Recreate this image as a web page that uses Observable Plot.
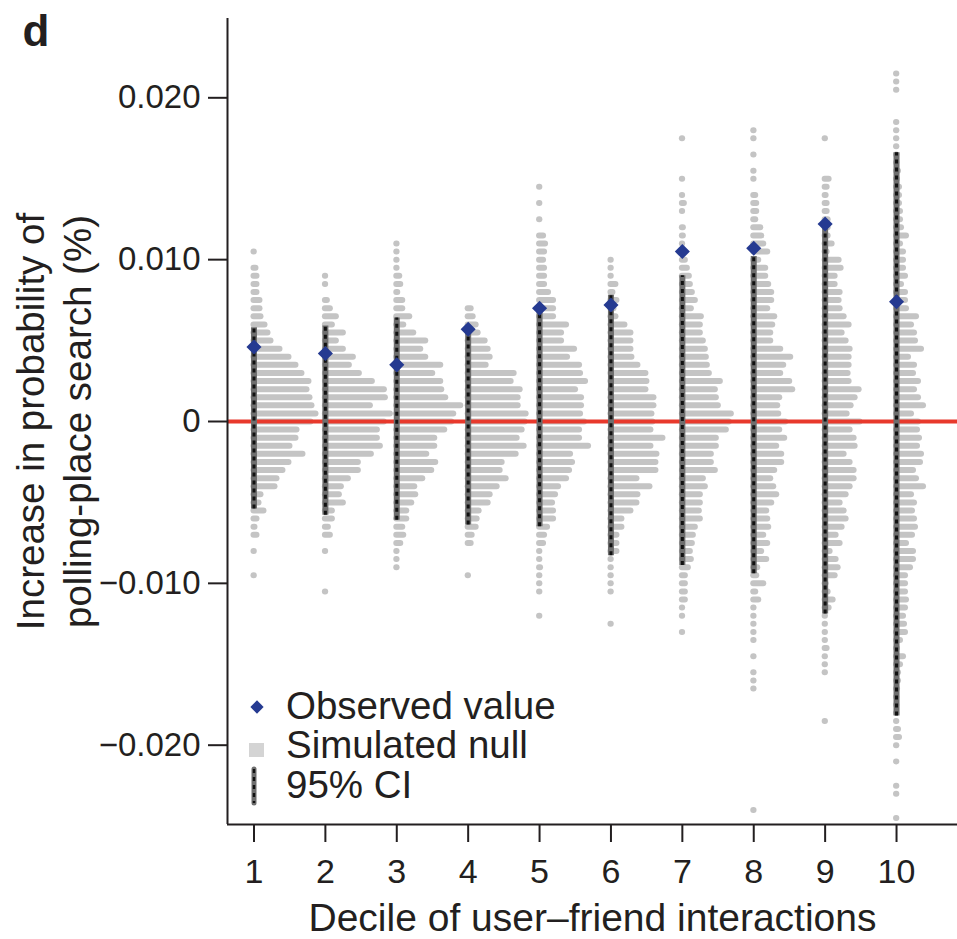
<!DOCTYPE html>
<html>
<head>
<meta charset="utf-8">
<script src="https://cdn.jsdelivr.net/npm/d3@7"></script>
<script src="https://cdn.jsdelivr.net/npm/@observablehq/plot@0.6"></script>
<style>
  html, body { margin: 0; padding: 0; background: #fff; }
  #chart { width: 957px; height: 939px; }
</style>
</head>
<body>
<div id="chart"></div>
<script>
// ---------------- data ----------------
const deciles = [1, 2, 3, 4, 5, 6, 7, 8, 9, 10];
const binWidth = 0.0005;                 // histogram bin width (in %)
// index of the highest bin (in bin widths above zero) for each decile
const topBin = [21, 18, 22, 14, 29, 20, 35, 36, 35, 43];
// simulated-null histogram frequencies, from the top bin downward
const null1 = [3,0,5,6,6,6,9,9,10,14,17,20,29,38,45,51,58,56,59,61,65,60,46,45,39,52,38,32,26,24,10,8,13,6,4,6,0,3,0,0,3];
const null2 = [3,3,0,5,8,14,10,21,14,21,31,27,37,50,62,63,48,68,62,55,55,58,49,36,36,26,19,17,21,10,10,6,8,0,3,0,0,0,0,3];
const null3 = [3,3,3,3,6,7,4,9,9,16,10,20,32,27,32,47,39,47,48,52,67,60,58,51,41,41,33,42,38,29,21,22,18,13,13,9,10,7,3,3,3];
const null4 = [6,8,11,13,20,23,25,21,49,46,55,53,53,61,60,57,52,59,51,37,35,41,32,25,23,14,12,11,7,6,0,0,0,3];
const null5 = [3,0,3,0,3,0,7,9,8,7,8,8,8,12,17,17,17,30,25,25,38,31,43,44,49,39,45,45,44,48,43,43,52,34,36,33,30,22,19,16,17,17,11,8,7,3,3,4,3,3,3,0,0,3];
const null6 = [3,3,3,8,5,9,6,8,17,23,23,23,24,30,38,39,38,46,46,44,45,43,55,43,49,48,48,29,42,30,29,23,14,14,9,9,9,3,3,3,3,3,0,0,0,3];
const null7 = [3,0,0,0,0,3,0,3,5,3,0,4,4,3,6,6,8,10,11,13,16,12,22,21,21,24,26,27,28,30,41,36,37,39,52,50,47,37,37,32,32,36,24,26,21,21,20,21,16,14,13,11,12,9,6,6,6,6,3,3,0,3];
const null8 = [3,3,0,3,0,3,3,0,5,6,6,5,10,11,13,17,8,15,15,18,21,21,17,24,22,20,20,30,40,33,30,39,42,29,27,28,35,29,34,26,31,31,24,20,23,26,21,16,17,18,13,17,11,16,7,6,13,5,8,3,3,3,3,3,0,3,0,3,3,3,0,0,0,0,0,0,0,0,0,0,0,0,0,0,3];
const null9 = [3,0,0,0,0,7,5,4,5,5,6,6,6,10,5,17,19,13,13,18,17,18,22,27,20,24,28,27,27,26,27,37,33,29,25,38,28,32,33,22,28,32,32,28,24,18,22,24,20,14,18,8,14,16,13,4,6,11,7,3,3,3,3,5,3,3,3,0,0,0,0,0,3];
const null10 = [3,3,3,0,0,0,3,3,3,3,3,3,5,4,6,6,6,7,7,8,13,7,10,10,10,12,8,12,12,13,23,18,21,22,28,15,21,20,25,21,25,30,18,25,24,26,24,28,27,20,23,30,18,21,19,21,22,19,13,20,20,17,12,12,12,13,12,10,11,12,7,4,10,7,5,5,4,3,3,3,3,5,6,3,0,3,0,0,3,3,0,0,3];
const nullFreqs = [null1, null2, null3, null4, null5, null6, null7, null8, null9, null10];
// observed values and 95% CI of the null
const observed = [0.0046, 0.0042, 0.0035, 0.0057, 0.0070, 0.0072, 0.0105, 0.0107, 0.0122, 0.0074];
const ciHigh = [0.0058, 0.0059, 0.0064, 0.0057, 0.0070, 0.0078, 0.0090, 0.0102, 0.0122, 0.0166];
const ciLow  = [-0.0054, -0.0058, -0.0061, -0.0064, -0.0065, -0.0083, -0.0089, -0.0094, -0.0119, -0.0182];
// axis ticks and text
const yTicks = [-0.02, -0.01, 0, 0.01, 0.02];
const yTickLabels = ["\u22120.020", "\u22120.010", "0", "0.010", "0.020"];
const xTitle = "Decile of user\u2013friend interactions";
const yTitle = "Increase in probability of\npolling-place search (%)";
const panelLabel = "d";
const legendLabels = ["Observed value", "Simulated null", "95% CI"];

// ---------------- build tables ----------------
const bars = [];
deciles.forEach((d, k) => {
  nullFreqs[k].forEach((f, i) => {
    if (f > 0) bars.push({decile: d, v: (topBin[k] - i) * binWidth, freq: f});
  });
});
const pts = deciles.map((d, k) => ({decile: d, obs: observed[k], lo: ciLow[k], hi: ciHigh[k]}));

const xDomain = [0.629, 10.854];
const yDomain = [-0.0249, 0.0249];
const freqUnit = 1 / 71.39;     // decile units per frequency unit
const capR = 3;                 // round cap radius in frequency units

const BLUE = "#253a91", GRAY = "#c4c4c4", RED = "#e8392c", INK = "#231f20";
const FONT = "'Liberation Sans', Arial, Helvetica, sans-serif";

const chart = Plot.plot({
  width: 957,
  height: 939,
  marginLeft: 227,
  marginRight: 0,
  marginTop: 18,
  marginBottom: 115,
  style: {fontFamily: FONT, fontSize: "32px", color: INK, background: "#fff", overflow: "visible"},
  x: {type: "linear", domain: xDomain},
  y: {type: "linear", domain: yDomain},
  marks: [
    // simulated null histograms
    Plot.ruleY(bars, {
      y: "v",
      x1: "decile",
      x2: d => d.decile + Math.max(0.3, d.freq - capR) * freqUnit,
      stroke: GRAY,
      strokeWidth: 6,
      strokeLinecap: "round"
    }),
    // zero line
    Plot.ruleY([0], {stroke: RED, strokeWidth: 4}),
    // 95% CI
    Plot.ruleX(pts, {x: "decile", y1: "lo", y2: "hi", stroke: "#6e6e6e", strokeWidth: 6}),
    Plot.ruleX(pts, {x: "decile", y1: "lo", y2: "hi", stroke: "#111", strokeWidth: 3, strokeDasharray: "4,4"}),
    // observed
    Plot.dot(pts, {x: "decile", y: "obs", symbol: "diamond2", r: 6.8, fill: BLUE, stroke: "none"}),
    // axes
    Plot.ruleX([xDomain[0]], {stroke: INK, strokeWidth: 2}),
    Plot.ruleY([yDomain[0]], {stroke: INK, strokeWidth: 2}),
    Plot.axisY({
      ticks: yTicks,
      tickFormat: d => yTickLabels[yTicks.findIndex(t => Math.abs(t - d) < 1e-9)],
      tickSize: 19,
      tickPadding: 8,
      fontSize: 33,
      stroke: INK,
      strokeWidth: 2,
      label: null
    }),
    Plot.axisX({
      ticks: deciles,
      tickFormat: d => String(d),
      tickSize: 18,
      tickPadding: 16,
      fontSize: 34,
      stroke: INK,
      strokeWidth: 2,
      label: null
    }),
    // titles
    Plot.text([xTitle], {frameAnchor: "bottom", dy: 106, lineAnchor: "bottom", textAnchor: "middle", fontSize: 39, fill: INK}),
    Plot.text([yTitle], {frameAnchor: "left", rotate: -90, dx: -137, lineAnchor: "bottom", textAnchor: "middle", lineHeight: 1.22, fontSize: 38.5, fill: INK}),
    Plot.text([panelLabel], {frameAnchor: "top-left", dx: -205, dy: 27, lineAnchor: "bottom", textAnchor: "start", fontSize: 44, fontWeight: "bold", fill: INK})
  ]
});

// ---------------- legend (inside the plot, bottom-left) ----------------
const svg = d3.select(chart);
const lg = svg.append("g")
  .attr("font-family", FONT)
  .attr("font-size", 38.5)
  .attr("text-anchor", "start")
  .attr("fill", INK);
lg.append("path")
  .attr("d", d3.symbol(d3.symbolDiamond2, 112)())
  .attr("transform", "translate(257,707)")
  .attr("fill", BLUE);
lg.append("rect").attr("x", 249).attr("y", 743).attr("width", 15).attr("height", 14).attr("fill", "#d4d4d4");
lg.append("line").attr("x1", 254).attr("x2", 254).attr("y1", 769).attr("y2", 803)
  .attr("stroke", "#6e6e6e").attr("stroke-width", 5).attr("stroke-linecap", "round");
lg.append("line").attr("x1", 254).attr("x2", 254).attr("y1", 769).attr("y2", 803)
  .attr("stroke", "#111").attr("stroke-width", 2.4).attr("stroke-dasharray", "4,4");
[719, 758, 798].forEach((yb, i) => {
  lg.append("text").attr("x", 286).attr("y", yb).attr("text-anchor", "start").text(legendLabels[i]);
});

document.getElementById("chart").appendChild(chart);
</script>
</body>
</html>
